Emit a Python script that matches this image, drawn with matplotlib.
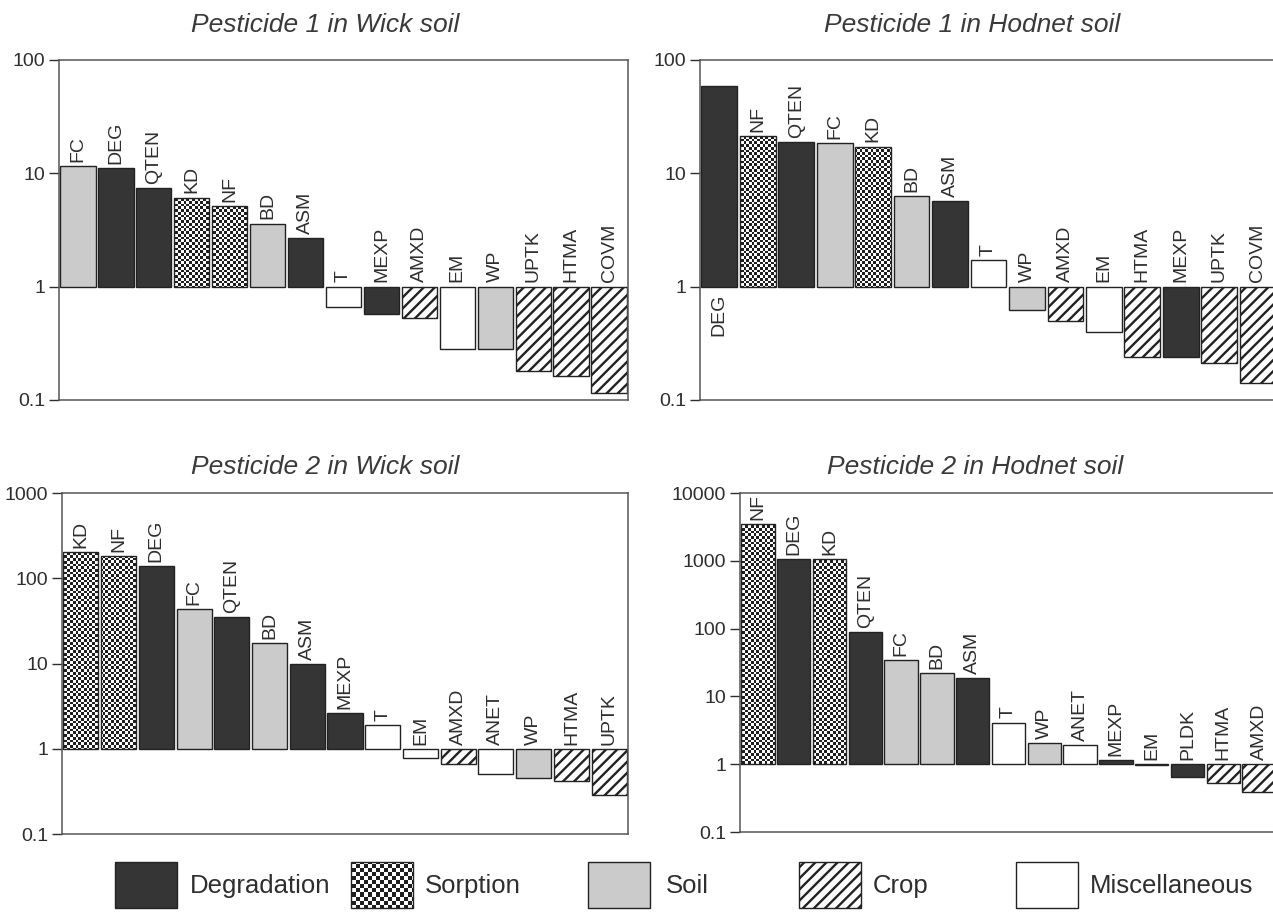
import numpy as np
import matplotlib
matplotlib.use("Agg")
import matplotlib.pyplot as plt
from matplotlib.colors import ListedColormap
from matplotlib.image import AxesImage
from matplotlib.patches import Rectangle
from matplotlib.ticker import FixedLocator, NullLocator

plt.rcParams["font.family"] = ["Liberation Sans", "DejaVu Sans"]
plt.rcParams["hatch.linewidth"] = 1.7
plt.rcParams["hatch.color"] = "#222222"

# =============================================================================
# data

p1_wick_labels = ["FC", "DEG", "QTEN", "KD", "NF", "BD", "ASM", "T", "MEXP",
                  "AMXD", "EM", "WP", "UPTK", "HTMA", "COVM"]
p1_wick_values = [11.5, 11.2, 7.4, 6.1, 5.1, 3.6, 2.7, 0.66, 0.575,
                  0.53, 0.283, 0.28, 0.179, 0.163, 0.115]
p1_wick_groups = ["soil", "deg", "deg", "sorp", "sorp", "soil", "deg", "misc", "deg",
                  "crop", "misc", "soil", "crop", "crop", "crop"]

p1_hod_labels = ["DEG", "NF", "QTEN", "FC", "KD", "BD", "ASM", "T", "WP",
                 "AMXD", "EM", "HTMA", "MEXP", "UPTK", "COVM"]
p1_hod_values = [59, 21.3, 19, 18.6, 17.2, 6.3, 5.7, 1.72, 0.62,
                 0.50, 0.40, 0.24, 0.24, 0.21, 0.14]
p1_hod_groups = ["deg", "sorp", "deg", "soil", "sorp", "soil", "deg", "misc", "soil",
                 "crop", "misc", "crop", "deg", "crop", "crop"]

p2_wick_labels = ["KD", "NF", "DEG", "FC", "QTEN", "BD", "ASM", "MEXP", "T",
                  "EM", "AMXD", "ANET", "WP", "HTMA", "UPTK"]
p2_wick_values = [204, 181, 138, 43, 35, 17.5, 9.8, 2.64, 1.9,
                  0.77, 0.67, 0.51, 0.45, 0.42, 0.29]
p2_wick_groups = ["sorp", "sorp", "deg", "soil", "deg", "soil", "deg", "deg", "misc",
                  "misc", "crop", "misc", "soil", "crop", "crop"]

p2_hod_labels = ["NF", "DEG", "KD", "QTEN", "FC", "BD", "ASM", "T", "WP",
                 "ANET", "MEXP", "EM", "PLDK", "HTMA", "AMXD"]
p2_hod_values = [3460, 1050, 1050, 89, 34, 22, 18.8, 4.1, 2.06,
                 1.9, 1.15, 0.96, 0.65, 0.52, 0.39]
p2_hod_groups = ["sorp", "deg", "sorp", "deg", "soil", "soil", "deg", "misc", "soil",
                 "misc", "deg", "misc", "deg", "crop", "crop"]

legend_names = ["Degradation", "Sorption", "Soil", "Crop", "Miscellaneous"]
legend_groups = ["deg", "sorp", "soil", "crop", "misc"]

# =============================================================================
# styles

TEXT = "#2e2e2e"
EDGE = "#222222"
STYLE = {
    "deg": dict(facecolor="#353535", hatch=None),
    "sorp": dict(facecolor="none", hatch=None),
    "soil": dict(facecolor="#cbcbcb", hatch=None),
    "crop": dict(facecolor="white", hatch="///"),
    "misc": dict(facecolor="white", hatch=None),
}
CHECKER = ListedColormap(["#1e1e1e", "white"])


def add_checker(ax, patch, cell=2.7):
    # checkerboard texture clipped to one patch
    bb = ax.bbox
    ncols = max(int(bb.width / cell), 2)
    nrows = max(int(bb.height / cell), 2)
    board = np.add.outer(np.arange(nrows), np.arange(ncols)) % 2
    im = AxesImage(ax, cmap=CHECKER, interpolation="nearest",
                   extent=(0, 1, 0, 1), transform=ax.transAxes)
    im.set_data(board)
    im.set_clim(0, 1)
    im.set_zorder(patch.get_zorder() - 0.1)
    im.set_clip_path(patch)
    ax.add_image(im)


def draw_panel(ax, title, title_x, title_y, labels, values, groups, ymax,
               below=()):
    x = np.arange(len(values))
    for xi, val, grp, lab in zip(x, values, groups, labels):
        st = STYLE[grp]
        bar = ax.bar(xi, val - 1, bottom=1, width=0.93, facecolor=st["facecolor"],
                     edgecolor=EDGE, linewidth=1.0, hatch=st["hatch"], zorder=2)[0]
        if grp == "sorp":
            add_checker(ax, bar)
        if lab in below:
            ax.annotate(lab, (xi, 1), xytext=(0, -5), textcoords="offset points",
                        rotation=90, ha="center", va="top", fontsize=14,
                        color=TEXT)
        else:
            ax.annotate(lab, (xi, max(val, 1)), xytext=(0, 3),
                        textcoords="offset points", rotation=90, ha="center",
                        va="bottom", fontsize=14, color=TEXT)

    ax.set_yscale("log")
    ax.set_ylim(0.1, ymax)
    ax.set_xlim(-0.5, len(values) - 0.5)
    ticks = [10.0 ** k for k in range(-1, int(round(np.log10(ymax))) + 1)]
    ax.yaxis.set_major_locator(FixedLocator(ticks))
    ax.yaxis.set_minor_locator(NullLocator())
    ax.set_yticklabels([f"{t:g}" for t in ticks])
    ax.xaxis.set_major_locator(NullLocator())
    ax.tick_params(axis="y", direction="out", length=7, width=1.0,
                   labelsize=14, colors=TEXT, pad=3)
    for sp in ax.spines.values():
        sp.set_color("#555555")
        sp.set_linewidth(1.1)
    ax.figure.text(title_x, title_y, title, ha="center", va="baseline",
                   fontsize=19, style="italic", color="#3a3a3a")


fig = plt.figure(figsize=(12.73, 9.13), dpi=100)
W, H = 1273.0, 913.0


def px_axes(left, top, right, bottom):
    return fig.add_axes([left / W, 1 - bottom / H, (right - left) / W, (bottom - top) / H])


ax1 = px_axes(59, 60, 628, 400)
ax2 = px_axes(700, 60, 1277, 400)
ax3 = px_axes(62, 493, 628, 834)
ax4 = px_axes(740, 493, 1277, 832)

draw_panel(ax1, "Pesticide 1 in Wick soil", 325 / W, 1 - 32 / H,
           p1_wick_labels, p1_wick_values, p1_wick_groups, 100)
draw_panel(ax2, "Pesticide 1 in Hodnet soil", 972 / W, 1 - 32 / H,
           p1_hod_labels, p1_hod_values, p1_hod_groups, 100, below=("DEG",))
draw_panel(ax3, "Pesticide 2 in Wick soil", 325 / W, 1 - 474 / H,
           p2_wick_labels, p2_wick_values, p2_wick_groups, 1000)
draw_panel(ax4, "Pesticide 2 in Hodnet soil", 975 / W, 1 - 474 / H,
           p2_hod_labels, p2_hod_values, p2_hod_groups, 10000)

# legend strip along the bottom, in pixel units
leg = fig.add_axes([0, 0, 1, 70 / H])
leg.set_xlim(0, W)
leg.set_ylim(0, 70)
leg.axis("off")
box_x = [115, 351, 588, 799, 1016]
text_x = [190, 425, 666, 873, 1090]
for bx, tx, grp, name in zip(box_x, text_x, legend_groups, legend_names):
    st = STYLE[grp]
    r = Rectangle((bx, 5), 62, 46, facecolor=st["facecolor"], edgecolor=EDGE,
                  linewidth=1.0, hatch=st["hatch"], zorder=2)
    leg.add_patch(r)
    if grp == "sorp":
        add_checker(leg, r, cell=4)
    leg.text(tx, 27, name, ha="left", va="center", fontsize=18.5, color=TEXT)

fig.savefig("out.png", dpi=100)
plt.close(fig)
